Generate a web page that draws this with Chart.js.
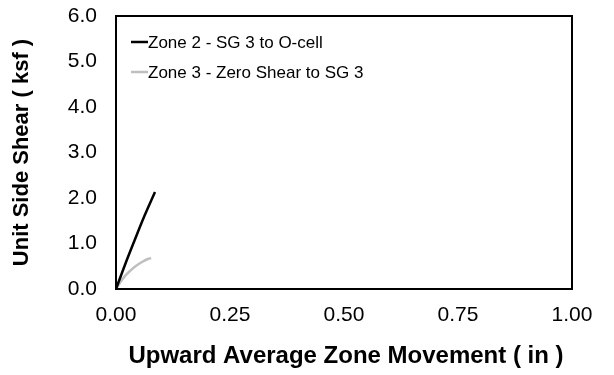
<!DOCTYPE html>
<html>
<head>
<meta charset="utf-8">
<script src="https://cdn.jsdelivr.net/npm/chart.js@4"></script>
<style>
  html, body { margin: 0; padding: 0; background: #fff; }
  #wrap { width: 614px; height: 375px; }
</style>
</head>
<body>
<div id="wrap"><canvas id="shearChart" width="614" height="375"></canvas></div>
<script>
// values
const zone2X = [0, 0.02, 0.04, 0.06, 0.0855];
const zone2Y = [0, 0.54, 1.05, 1.55, 2.13];
const zone3X = [0, 0.01, 0.02, 0.03, 0.04, 0.05, 0.06, 0.07, 0.077];
const zone3Y = [0, 0.16, 0.29, 0.39, 0.48, 0.55, 0.61, 0.66, 0.68];
const seriesLabels = ["Zone 2 - SG 3 to O-cell", "Zone 3 - Zero Shear to SG 3"];
const xTitle = "Upward Average Zone Movement ( in )";
const yTitle = "Unit Side Shear ( ksf )";

const fontFamily = "'Liberation Sans', Arial, sans-serif";

const toPoints = (xs, ys) => xs.map((x, i) => ({ x: x, y: ys[i] }));

// box, legend and axis titles drawn on top
const decorPlugin = {
  id: "decor",
  afterDraw(chart) {
    const ctx = chart.ctx;
    const a = chart.chartArea;
    ctx.save();
    ctx.strokeStyle = "#000";
    ctx.lineWidth = 2;
    ctx.strokeRect(a.left, a.top, a.right - a.left, a.bottom - a.top);

    // legend inside plot
    ctx.font = "17px " + fontFamily;
    ctx.textBaseline = "middle";
    ctx.fillStyle = "#000";
    chart.data.datasets.forEach((ds, i) => {
      const y = a.top + 26 + i * 30;
      ctx.strokeStyle = ds.borderColor;
      ctx.lineWidth = 2.5;
      ctx.beginPath();
      ctx.moveTo(a.left + 15, y);
      ctx.lineTo(a.left + 32, y);
      ctx.stroke();
      ctx.fillText(ds.label, a.left + 32, y + 1);
    });

    // axis titles
    ctx.textAlign = "center";
    ctx.font = "bold 24px " + fontFamily;
    ctx.fillText(xTitle, (a.left + a.right) / 2 + 2, 356);
    ctx.font = "bold 22px " + fontFamily;
    ctx.translate(22, (a.top + a.bottom) / 2);
    ctx.rotate(-Math.PI / 2);
    ctx.fillText(yTitle, 0, 0);
    ctx.restore();
  },
};

new Chart(document.getElementById("shearChart"), {
  type: "line",
  data: {
    datasets: [
      {
        label: seriesLabels[0],
        data: toPoints(zone2X, zone2Y),
        borderColor: "#000000",
        borderWidth: 2.5,
        pointRadius: 0,
        cubicInterpolationMode: "monotone",
      },
      {
        label: seriesLabels[1],
        data: toPoints(zone3X, zone3Y),
        borderColor: "#bfbfbf",
        borderWidth: 2.5,
        pointRadius: 0,
        cubicInterpolationMode: "monotone",
      },
    ],
  },
  options: {
    responsive: false,
    animation: false,
    layout: { padding: { left: 0, right: 42, top: 16, bottom: 0 } },
    plugins: {
      legend: { display: false },
      tooltip: { enabled: false },
    },
    scales: {
      x: {
        type: "linear",
        min: 0,
        max: 1,
        grid: { display: false, drawTicks: false },
        border: { display: false },
        ticks: {
          stepSize: 0.25,
          color: "#000",
          padding: 14,
          font: { family: fontFamily, size: 21 },
          callback: (v) => v.toFixed(2),
        },
        afterFit: (scale) => {
          scale.height = 86;
          scale.paddingLeft = 0;
          scale.paddingRight = 0;
        },
      },
      y: {
        min: 0,
        max: 6,
        grid: { display: false, drawTicks: false },
        border: { display: false },
        ticks: {
          stepSize: 1,
          color: "#000",
          padding: 19,
          font: { family: fontFamily, size: 21 },
          callback: (v) => v.toFixed(1),
        },
        afterFit: (scale) => {
          scale.width = 116;
          scale.paddingTop = 0;
          scale.paddingBottom = 0;
        },
      },
    },
  },
  plugins: [decorPlugin],
});
</script>
</body>
</html>
